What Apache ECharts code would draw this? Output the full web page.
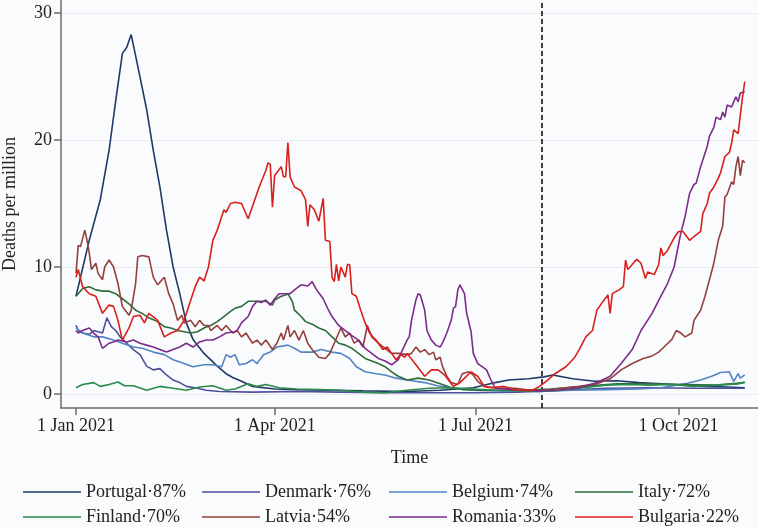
<!DOCTYPE html>
<html>
<head>
<meta charset="utf-8">
<script src="https://cdn.jsdelivr.net/npm/echarts@6/dist/echarts.min.js"></script>
<style>html,body{margin:0;padding:0;background:#fafbfc;}#c{width:758px;height:527px;}</style>
</head>
<body>
<div id="c"></div>
<script>
// x values: days since 1 Jan 2021
const xTickDays = [0, 90, 181, 273];
const xTickLabels = ['1 Jan 2021', '1 Apr 2021', '1 Jul 2021', '1 Oct 2021'];
const yTicks = [0, 10, 20, 30];
const markDay = 211; // 31 Jul 2021

const portugal = [[0,7.7],[3,9.9],[6,12.1],[11,15.3],[15,19.2],[18,23.1],[21,26.8],[23,27.3],[25,28.3],[28,25.8],[32,22.4],[35,19.2],[38,16.3],[41,12.9],[44,10.0],[47,7.9],[50,5.6],[53,4.3],[58,3.2],[64,2.2],[68,1.6],[71,1.3],[75,1.0],[80,0.6],[90,0.4],[100,0.35],[115,0.3],[130,0.25],[150,0.2],[165,0.3],[180,0.5],[190,0.9],[196,1.1],[205,1.2],[212,1.35],[216,1.5],[225,1.2],[235,1.0],[245,1.05],[255,0.9],[265,0.8],[275,0.7],[285,0.6],[295,0.55],[303,0.5]];
const denmark = [[0,5.4],[1,5.0],[3,4.8],[6,4.7],[8,5.0],[12,4.8],[14,6.0],[16,5.3],[18,5.0],[20,4.5],[23,4.0],[26,3.5],[29,3.1],[32,2.2],[35,1.9],[38,2.0],[41,1.5],[44,1.1],[47,0.9],[50,0.6],[55,0.45],[59,0.3],[65,0.2],[80,0.15],[100,0.2],[120,0.15],[140,0.1],[160,0.1],[180,0.1],[200,0.15],[220,0.3],[240,0.45],[260,0.5],[280,0.45],[303,0.45]];
const belgium = [[0,5.2],[3,4.8],[8,4.5],[12,4.5],[17,4.25],[21,4.0],[26,3.7],[30,3.6],[35,3.3],[40,3.1],[44,2.7],[49,2.4],[53,2.15],[58,2.3],[62,2.3],[66,2.15],[68,3.1],[70,2.9],[72,3.1],[74,2.3],[77,2.4],[80,2.7],[82,2.4],[85,3.1],[88,3.3],[91,3.7],[96,3.85],[99,3.6],[102,3.3],[107,3.3],[111,3.5],[116,3.3],[120,3.2],[124,2.8],[127,2.15],[131,1.75],[136,1.6],[140,1.5],[145,1.25],[150,1.1],[158,0.9],[165,0.6],[172,0.45],[180,0.3],[195,0.25],[210,0.2],[225,0.3],[240,0.35],[255,0.4],[265,0.5],[272,0.7],[277,0.85],[283,1.1],[288,1.4],[292,1.7],[296,1.75],[298,1.0],[300,1.6],[301,1.25],[303,1.5]];
const italy = [[0,7.7],[1,7.9],[3,8.3],[6,8.45],[9,8.2],[12,8.1],[15,8.1],[18,7.9],[21,7.5],[24,7.1],[27,6.6],[30,6.35],[33,6.0],[37,5.7],[40,5.3],[43,5.2],[46,5.0],[49,4.9],[52,4.8],[55,4.9],[58,5.2],[61,5.4],[64,5.7],[67,6.1],[70,6.5],[72,6.75],[75,6.9],[78,7.3],[83,7.3],[86,7.3],[89,7.0],[90,7.4],[93,7.7],[95,7.8],[96,7.9],[98,7.3],[99,6.6],[102,6.1],[104,5.7],[107,5.5],[110,5.2],[113,5.0],[116,4.5],[119,4.0],[122,3.85],[125,3.6],[128,3.2],[131,2.8],[134,2.6],[137,2.4],[140,2.15],[143,1.75],[146,1.4],[150,1.1],[155,1.25],[160,1.1],[165,0.8],[170,0.5],[175,0.35],[185,0.3],[200,0.3],[215,0.4],[230,0.6],[245,0.8],[260,0.8],[275,0.75],[290,0.7],[303,0.9]];
const finland = [[0,0.5],[3,0.75],[8,0.9],[11,0.6],[15,0.75],[19,0.95],[22,0.65],[26,0.65],[32,0.3],[38,0.6],[44,0.45],[50,0.3],[56,0.55],[62,0.65],[68,0.3],[72,0.4],[78,0.8],[82,0.6],[86,0.75],[92,0.5],[100,0.4],[110,0.35],[120,0.3],[130,0.15],[140,0.1],[150,0.3],[160,0.45],[170,0.5],[180,0.4],[190,0.3],[200,0.25],[210,0.2],[220,0.3],[230,0.5],[240,0.7],[250,0.75],[260,0.7],[270,0.75],[280,0.6],[290,0.7],[300,0.8],[303,0.95]];
const latvia = [[0,9.5],[1,11.7],[2,11.6],[4,12.9],[5,12.1],[6,11.1],[7,9.8],[9,10.3],[10,9.5],[12,9.0],[13,10.0],[15,10.55],[17,10.0],[19,8.7],[21,6.9],[24,6.2],[25,6.6],[27,8.7],[28,10.8],[30,10.9],[33,10.8],[35,9.2],[37,8.6],[40,9.2],[42,7.9],[44,7.1],[46,5.8],[48,6.2],[49,5.6],[52,5.8],[54,5.3],[56,5.8],[58,5.4],[60,5.4],[61,5.0],[64,5.4],[66,5.0],[68,5.4],[71,4.8],[73,5.0],[75,4.5],[77,4.8],[80,4.0],[82,4.25],[84,3.85],[86,4.25],[89,3.5],[91,4.0],[93,4.8],[94,4.25],[96,5.4],[97,4.5],[99,5.0],[101,4.25],[103,5.0],[105,4.0],[107,3.5],[110,2.9],[113,2.8],[115,3.2],[117,4.0],[120,5.2],[122,4.5],[124,4.8],[126,4.0],[128,4.25],[130,3.7],[132,5.4],[134,4.5],[137,4.0],[140,3.6],[143,3.2],[146,3.2],[150,3.1],[152,3.2],[154,3.7],[156,3.3],[158,3.5],[160,3.1],[162,3.3],[163,2.7],[165,2.9],[166,2.2],[168,1.4],[170,0.9],[173,0.75],[175,1.6],[178,1.75],[180,1.5],[182,1.0],[185,0.6],[191,0.45],[199,0.45],[206,0.3],[212,0.3],[220,0.45],[228,0.6],[236,0.8],[242,1.2],[247,1.9],[252,2.4],[257,2.8],[261,3.0],[264,3.3],[267,3.8],[270,4.3],[272,5.0],[274,4.8],[276,4.5],[279,4.8],[280,5.8],[283,6.6],[285,7.7],[287,9.0],[289,10.3],[291,12.1],[293,13.2],[294,15.5],[295,15.7],[297,16.7],[298,16.5],[299,17.9],[300,18.7],[301,17.2],[302,18.4],[303,18.2]];
const romania = [[0,5.0],[1,4.8],[3,5.0],[6,5.2],[8,4.8],[10,4.5],[12,3.6],[15,4.0],[17,4.1],[19,4.25],[23,4.1],[26,4.25],[29,4.0],[32,3.85],[35,3.7],[38,3.5],[41,3.3],[44,3.5],[47,3.7],[50,4.0],[53,3.7],[56,4.1],[59,4.25],[62,4.25],[65,4.5],[68,4.8],[72,4.9],[73,5.0],[75,5.6],[78,6.1],[80,6.9],[82,7.3],[84,7.2],[86,7.4],[88,7.0],[90,7.5],[92,7.9],[95,7.9],[97,7.9],[99,8.2],[102,8.6],[105,8.5],[107,8.85],[109,8.2],[112,7.5],[114,6.75],[116,6.1],[119,5.4],[122,5.0],[125,4.6],[128,4.25],[131,3.6],[134,3.2],[137,2.8],[140,2.6],[143,2.3],[146,2.7],[148,3.5],[150,4.25],[151,4.5],[152,5.8],[154,7.4],[155,7.9],[156,7.8],[158,6.6],[159,5.0],[161,4.25],[163,3.85],[165,3.7],[166,4.0],[168,4.8],[170,5.8],[171,6.75],[172,6.9],[173,8.2],[174,8.6],[176,7.9],[177,6.35],[179,4.9],[180,3.2],[182,2.4],[184,2.15],[186,1.9],[188,1.1],[190,0.45],[200,0.3],[210,0.25],[218,0.3],[227,0.45],[236,0.9],[242,1.4],[247,2.4],[252,3.5],[256,5.0],[261,6.35],[265,7.7],[268,8.7],[271,10.0],[274,12.65],[276,14.0],[278,15.8],[280,16.5],[281,16.6],[283,17.9],[286,19.5],[287,20.3],[289,21.0],[290,21.8],[292,21.6],[293,22.2],[294,21.8],[295,22.75],[297,22.6],[298,23.0],[299,23.4],[300,23.0],[301,23.7],[303,23.8]];
const bulgaria = [[0,9.2],[1,9.8],[3,8.45],[6,7.9],[9,7.7],[12,6.35],[15,7.0],[17,6.9],[19,5.8],[21,4.25],[24,5.2],[26,6.1],[29,6.2],[31,5.6],[33,6.35],[37,5.8],[40,4.5],[43,4.8],[46,5.0],[49,5.8],[52,7.4],[54,8.45],[56,9.2],[58,8.9],[60,10.0],[62,12.1],[64,12.9],[67,14.5],[68,14.3],[70,15.0],[72,15.1],[75,15.0],[78,13.8],[81,15.3],[83,16.3],[86,17.6],[87,18.2],[88,18.1],[89,14.7],[90,17.2],[93,17.9],[94,17.1],[95,17.1],[96,19.8],[97,17.1],[99,16.3],[102,16.0],[104,15.3],[105,13.2],[106,14.9],[108,14.5],[110,13.6],[112,15.4],[113,12.1],[115,12.0],[116,9.2],[117,8.85],[118,10.2],[119,8.9],[120,10.0],[122,9.2],[123,10.2],[124,10.2],[125,7.9],[127,7.7],[129,6.6],[131,5.6],[133,4.8],[135,4.4],[136,4.25],[139,3.5],[141,3.7],[143,3.2],[145,2.7],[147,3.1],[149,2.9],[150,3.2],[154,2.3],[158,1.4],[161,1.9],[164,1.9],[167,1.5],[171,0.6],[174,0.9],[179,1.75],[182,1.4],[185,0.6],[188,0.5],[194,0.6],[200,0.3],[207,0.3],[210,0.6],[213,1.0],[217,1.6],[222,2.15],[226,2.9],[228,3.5],[231,4.5],[234,5.0],[236,6.6],[238,7.1],[241,7.8],[242,6.35],[243,7.9],[246,8.2],[248,8.45],[249,10.55],[250,9.8],[252,10.2],[254,10.6],[256,10.3],[258,9.1],[259,9.6],[262,9.4],[264,10.2],[265,11.5],[266,10.9],[268,11.3],[271,12.3],[273,12.8],[275,12.8],[278,12.1],[280,12.4],[283,12.8],[284,14.2],[286,15.0],[287,15.8],[289,16.3],[291,17.0],[292,17.4],[294,18.7],[296,19.0],[297,19.7],[298,20.8],[300,20.5],[301,22.0],[302,23.4],[303,24.6]];

const seriesNames = ['Portugal·87%','Denmark·76%','Belgium·74%','Italy·72%','Finland·70%','Latvia·54%','Romania·33%','Bulgaria·22%'];
const seriesData = [portugal, denmark, belgium, italy, finland, latvia, romania, bulgaria];
const colors = ['#1f3a68','#4c4f9e','#5584c4','#2f6b3b','#2a8a4c','#94403d','#7c2b8b','#d8201c'];
const legendColumns = [
  ['Portugal·87%','Finland·70%'],
  ['Denmark·76%','Latvia·54%'],
  ['Belgium·74%','Romania·33%'],
  ['Italy·72%','Bulgaria·22%']
];
const legendLefts = [23, 202, 389, 575];

const FONT = '"Liberation Serif", "DejaVu Serif", serif';
const chart = echarts.init(document.getElementById('c'), null, {renderer: 'canvas'});

const series = seriesNames.map((name, i) => ({
  name: name,
  type: 'line',
  data: seriesData[i],
  symbol: 'none',
  showSymbol: false,
  animation: false,
  color: colors[i],
  lineStyle: {width: 1.6, color: colors[i]},
  z: 2 + i
}));
series[0].markLine = {
  silent: true,
  symbol: ['none', 'none'],
  label: {show: false},
  animation: false,
  lineStyle: {color: '#111', type: [5, 3], width: 1.6},
  data: [{xAxis: markDay}]
};

const axisCol = '#6e6e6e';
chart.setOption({
  backgroundColor: '#fafbfc',
  animation: false,
  grid: {left: 61, right: 0, top: 0, bottom: 119, containLabel: false, outerBoundsMode: 'none'},
  xAxis: {
    type: 'value', min: -6.8, max: 309,
    axisLine: {show: true, onZero: false, lineStyle: {color: axisCol, width: 1.5}},
    axisTick: {show: true, length: 7, customValues: xTickDays, lineStyle: {color: axisCol, width: 1.5}},
    axisLabel: {customValues: xTickDays, formatter: v => xTickLabels[xTickDays.indexOf(v)], fontFamily: FONT, fontSize: 18, color: '#222', margin: 9},
    splitLine: {show: false},
    name: 'Time', nameLocation: 'middle', nameGap: 41,
    nameTextStyle: {fontFamily: FONT, fontSize: 18, color: '#222'}
  },
  yAxis: {
    type: 'value', min: -1.1, max: 31.02,
    axisLine: {show: true, onZero: false, lineStyle: {color: axisCol, width: 1.5}},
    axisTick: {show: true, length: 7, customValues: yTicks, lineStyle: {color: axisCol, width: 1.5}},
    axisLabel: {customValues: yTicks, fontFamily: FONT, fontSize: 18, color: '#222', margin: 9},
    splitLine: {show: true, lineStyle: {color: '#e8ecf1', width: 1.2}},
    name: 'Deaths per million', nameLocation: 'middle', nameGap: 42,
    nameTextStyle: {fontFamily: FONT, fontSize: 18, color: '#222'}
  },
  legend: legendColumns.map((col, k) => ({
    data: col.map(n => ({name: n, icon: 'rect'})),
    orient: 'vertical',
    left: legendLefts[k],
    top: 483,
    itemWidth: 58,
    itemHeight: 1.6,
    itemGap: 7,
    padding: 0,
    selectedMode: false,
    textStyle: {fontFamily: FONT, fontSize: 18, color: '#222', lineHeight: 18}
  })),
  series: series
});
</script>
</body>
</html>
